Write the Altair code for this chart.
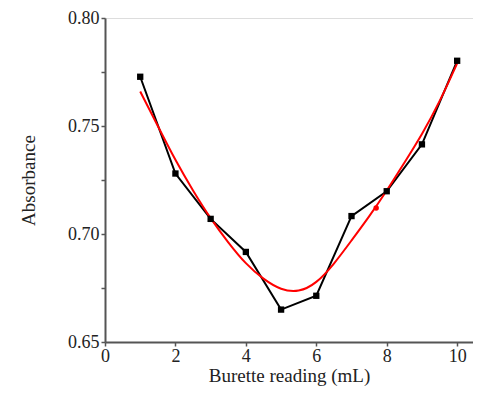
import altair as alt
import pandas as pd

# measured data (black)
burette = [1, 2, 3, 4, 5, 6, 7, 8, 9, 10]
absorb = [0.7728, 0.728, 0.707, 0.6917, 0.665, 0.6714, 0.7083, 0.7198, 0.7415, 0.7802]

# fitted curve (red)
fit_x = [1, 1.5, 2, 2.5, 3, 3.5, 4, 4.5, 5, 5.5, 6, 6.5, 7, 7.5, 8, 8.5, 9, 9.5, 10]
fit_y = [0.766, 0.750, 0.734, 0.720, 0.707, 0.696, 0.686, 0.679, 0.674, 0.673,
         0.677, 0.686, 0.697, 0.708, 0.720, 0.733, 0.746, 0.761, 0.779]

# single red marker on the fit
red_pt_x = [7.7]
red_pt_y = [0.712]

x_ticks = [0, 1, 2, 3, 4, 5, 6, 7, 8, 9, 10]
y_ticks = [0.65, 0.675, 0.70, 0.725, 0.75, 0.775, 0.80]

meas = pd.DataFrame({"x": burette, "y": absorb})
fit = pd.DataFrame({"x": fit_x, "y": fit_y})
rp = pd.DataFrame({"x": red_pt_x, "y": red_pt_y})

FONT = "Liberation Serif"
AX_COL = "#555555"

xs = alt.Scale(domain=[0, 10.45], nice=False, zero=False)
ys = alt.Scale(domain=[0.65, 0.80], nice=False, zero=False)

x_axis = alt.Axis(values=x_ticks, title="Burette reading (mL)", grid=False,
                  labelExpr="datum.value % 2 == 0 ? datum.label : ''",
                  domainColor=AX_COL, domainWidth=2, tickColor=AX_COL, tickSize=4,
                  tickWidth=1.5, labelFont=FONT, labelFontSize=18, labelColor="#222",
                  titleFont=FONT, titleFontSize=19, titleFontWeight="normal",
                  titleColor="#222", labelPadding=1, titlePadding=1,
                  labelFlush=False, labelOverlap=False)
y_axis = alt.Axis(values=y_ticks, title="Absorbance", grid=False,
                  labelExpr="(round(datum.value*1000) % 50 == 0) ? format(datum.value, '.2f') : ''",
                  domainColor=AX_COL, domainWidth=2, tickColor=AX_COL, tickSize=4,
                  tickWidth=1.5, labelFont=FONT, labelFontSize=18, labelColor="#222",
                  titleFont=FONT, titleFontSize=19, titleFontWeight="normal",
                  titleColor="#222", labelPadding=2, titlePadding=29,
                  labelFlush=False, labelOverlap=False)

meas_line = alt.Chart(meas).mark_line(color="black", strokeWidth=2).encode(
    x=alt.X("x:Q", scale=xs, axis=x_axis),
    y=alt.Y("y:Q", scale=ys, axis=y_axis),
)

fit_line = alt.Chart(fit).mark_line(color="#ff0000", strokeWidth=2,
                                    interpolate="basis").encode(
    x=alt.X("x:Q", scale=xs),
    y=alt.Y("y:Q", scale=ys),
)

meas_pts = alt.Chart(meas).mark_point(shape="square", filled=True, color="black",
                                      size=40, opacity=1).encode(
    x=alt.X("x:Q", scale=xs),
    y=alt.Y("y:Q", scale=ys),
)

red_pts = alt.Chart(rp).mark_point(shape="circle", filled=True, color="#ff0000",
                                   size=30, opacity=1).encode(
    x=alt.X("x:Q", scale=xs),
    y=alt.Y("y:Q", scale=ys),
)

chart = alt.layer(meas_line, fit_line, meas_pts, red_pts).properties(
    width=368, height=324,
    autosize=alt.AutoSizeParams(type="none"),
    padding={"left": 97, "top": 10, "right": 0, "bottom": 45},
).configure_view(stroke=None).configure(background="white")

chart.save("out.html", embed_options={"renderer": "svg", "actions": False})
